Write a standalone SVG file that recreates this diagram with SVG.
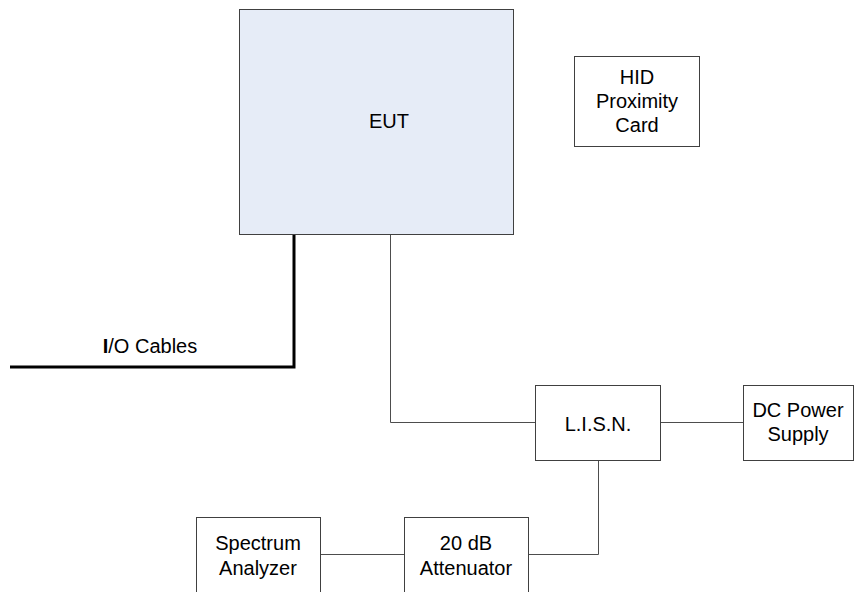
<svg xmlns="http://www.w3.org/2000/svg" width="864" height="592" viewBox="0 0 864 592">
  <style>
    .box { fill: #ffffff; stroke: #404040; stroke-width: 1; }
    .eut { fill: #e6ecf7; stroke: #404040; stroke-width: 1; }
    .wire { fill: none; stroke: #4d4d4d; stroke-width: 1; }
    .cable { fill: none; stroke: #000000; stroke-width: 3; }
    text { font-family: "Liberation Sans", Arial, sans-serif; font-size: 20px; fill: #000000; text-anchor: middle; }
  </style>
  <rect width="864" height="592" fill="#ffffff"/>

  <!-- connectors -->
  <g id="connectors">
    <polyline class="cable" points="10,367 294,367 294,234"/>
    <polyline class="wire" points="390.5,234 390.5,422.5 535,422.5"/>
    <line class="wire" x1="660" y1="422.5" x2="743" y2="422.5"/>
    <polyline class="wire" points="598.5,460 598.5,554.5 528,554.5"/>
    <line class="wire" x1="320" y1="554.5" x2="404" y2="554.5"/>
    <text x="150" y="353"><tspan font-weight="bold">I</tspan>/O Cables</text>
  </g>

  <g id="eut">
    <rect class="eut" x="239.5" y="9.5" width="274" height="225"/>
    <text x="389" y="128">EUT</text>
  </g>

  <g id="hid-card">
    <rect class="box" x="574.5" y="56.5" width="125" height="90"/>
    <text x="637" y="84">HID</text>
    <text x="637" y="108">Proximity</text>
    <text x="637" y="132">Card</text>
  </g>

  <g id="lisn">
    <rect class="box" x="535.5" y="385.5" width="125" height="75"/>
    <text x="598" y="431">L.I.S.N.</text>
  </g>

  <g id="dc-supply">
    <rect class="box" x="743.5" y="385.5" width="110" height="75"/>
    <text x="798" y="417">DC Power</text>
    <text x="798" y="441">Supply</text>
  </g>

  <g id="attenuator">
    <rect class="box" x="404.5" y="517.5" width="124" height="90"/>
    <text x="466" y="550">20 dB</text>
    <text x="466" y="575">Attenuator</text>
  </g>

  <g id="spectrum-analyzer">
    <rect class="box" x="196.5" y="517.5" width="124" height="90"/>
    <text x="258" y="550">Spectrum</text>
    <text x="258" y="575">Analyzer</text>
  </g>
</svg>
